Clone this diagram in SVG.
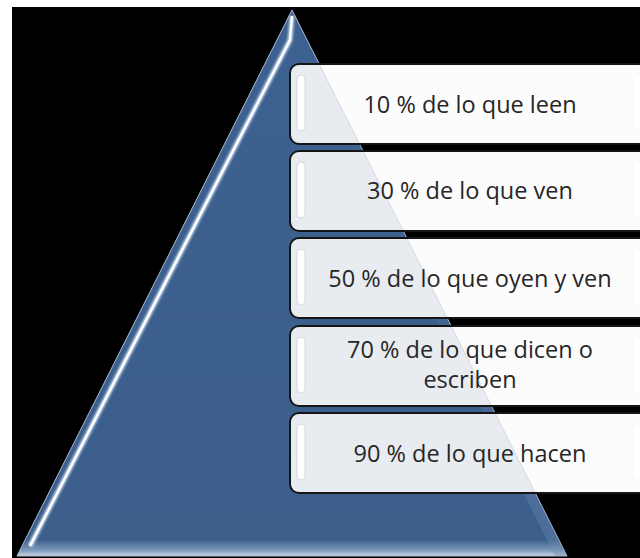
<svg xmlns="http://www.w3.org/2000/svg" width="640" height="558" viewBox="0 0 640 558">
  <style>
    .box { fill: #fcfcfc; }
    .tint { fill: #e8ebf0; }
    .frame { fill: none; stroke: #151515; stroke-width: 2; }
    .edge { stroke: #d3d6db; stroke-width: 0.9; fill: none; }
    .pill { fill: #ffffff; stroke: #cdd2d9; stroke-width: 0.8; }
    .pillr { fill: #ffffff; stroke: #f2f2f2; stroke-width: 0.6; }
    .lbl { font-family: "Open Sans", "Noto Sans", "Liberation Sans", sans-serif; font-size: 23.5px; fill: #262626; text-anchor: middle; }
  </style>
  <defs>
    <clipPath id="tri">
      <polygon points="292,10 567,556 17,556"/>
    </clipPath>
    <linearGradient id="triFill" x1="0" y1="0" x2="0" y2="1">
      <stop offset="0" stop-color="#3d6190"/>
      <stop offset="0.97" stop-color="#3b5e8b"/>
      <stop offset="0.99" stop-color="#7f9bbd"/>
      <stop offset="1" stop-color="#c9d5e3"/>
    </linearGradient>
    <linearGradient id="rightBevel" x1="0" y1="0" x2="1" y2="0">
      <stop offset="0" stop-color="#3b5e8b" stop-opacity="0"/>
      <stop offset="1" stop-color="#6d8cb3" stop-opacity="0.7"/>
    </linearGradient>
    <filter id="soft" x="-20%" y="-5%" width="140%" height="110%">
      <feGaussianBlur stdDeviation="1.3"/>
    </filter>
  </defs>

  <rect x="0" y="0" width="640" height="558" fill="#ffffff"/>
  <rect x="12" y="7" width="628" height="551" fill="#000000"/>

  <g id="pyramid">
    <polygon points="292,10 567,556 17,556" fill="url(#triFill)" stroke="#a7bbd3" stroke-width="1"/>
    <polygon points="292,10 567,556 555,556 288,22" fill="url(#rightBevel)" opacity="0.6"/>
    <path d="M292,16 L290,40 L30,546" fill="none" stroke="#cfe0f3" stroke-width="5" filter="url(#soft)" opacity="0.9"/>
    <path d="M292,16 L290,40 L30,546" fill="none" stroke="#ffffff" stroke-width="2.4"/>
  </g>

  <g id="connectors"></g>

  <g id="box1">
    <rect class="box" x="290" y="64" width="360" height="80" rx="9"/>
    <rect class="tint" x="290" y="64" width="360" height="80" rx="9" clip-path="url(#tri)"/>
    <line class="edge" x1="319.2" y1="64" x2="359.5" y2="144"/>
    <rect class="pill" x="297" y="75" width="8" height="56" rx="4"/>
    <rect class="pillr" x="633" y="75" width="8" height="56" rx="4"/>
    <rect class="frame" x="290" y="64" width="360" height="80" rx="9"/>
    <text class="lbl" x="470" y="112.5">10 % de lo que leen</text>
  </g>

  <g id="box2">
    <rect class="box" x="290" y="151" width="360" height="80" rx="9"/>
    <rect class="tint" x="290" y="151" width="360" height="80" rx="9" clip-path="url(#tri)"/>
    <line class="edge" x1="363.0" y1="151" x2="403.3" y2="231"/>
    <rect class="pill" x="297" y="162" width="8" height="56" rx="4"/>
    <rect class="pillr" x="633" y="162" width="8" height="56" rx="4"/>
    <rect class="frame" x="290" y="151" width="360" height="80" rx="9"/>
    <text class="lbl" x="470" y="199">30 % de lo que ven</text>
  </g>

  <g id="box3">
    <rect class="box" x="290" y="238" width="360" height="80" rx="9"/>
    <rect class="tint" x="290" y="238" width="360" height="80" rx="9" clip-path="url(#tri)"/>
    <line class="edge" x1="406.8" y1="238" x2="447.1" y2="318"/>
    <rect class="pill" x="297" y="249" width="8" height="56" rx="4"/>
    <rect class="pillr" x="633" y="249" width="8" height="56" rx="4"/>
    <rect class="frame" x="290" y="238" width="360" height="80" rx="9"/>
    <text class="lbl" x="470" y="286.5">50 % de lo que oyen y ven</text>
  </g>

  <g id="box4">
    <rect class="box" x="290" y="326" width="360" height="80" rx="9"/>
    <rect class="tint" x="290" y="326" width="360" height="80" rx="9" clip-path="url(#tri)"/>
    <line class="edge" x1="451.2" y1="326" x2="491.4" y2="406"/>
    <rect class="pill" x="297" y="337" width="8" height="56" rx="4"/>
    <rect class="pillr" x="633" y="337" width="8" height="56" rx="4"/>
    <rect class="frame" x="290" y="326" width="360" height="80" rx="9"/>
    <text class="lbl" x="470" y="358">70 % de lo que dicen o</text>
    <text class="lbl" x="470" y="388">escriben</text>
  </g>

  <g id="box5">
    <rect class="box" x="290" y="413" width="360" height="80" rx="9"/>
    <rect class="tint" x="290" y="413" width="360" height="80" rx="9" clip-path="url(#tri)"/>
    <line class="edge" x1="495.0" y1="413" x2="535.3" y2="493"/>
    <rect class="pill" x="297" y="424" width="8" height="56" rx="4"/>
    <rect class="pillr" x="633" y="424" width="8" height="56" rx="4"/>
    <rect class="frame" x="290" y="413" width="360" height="80" rx="9"/>
    <text class="lbl" x="470" y="461.5">90 % de lo que hacen</text>
  </g>
</svg>
